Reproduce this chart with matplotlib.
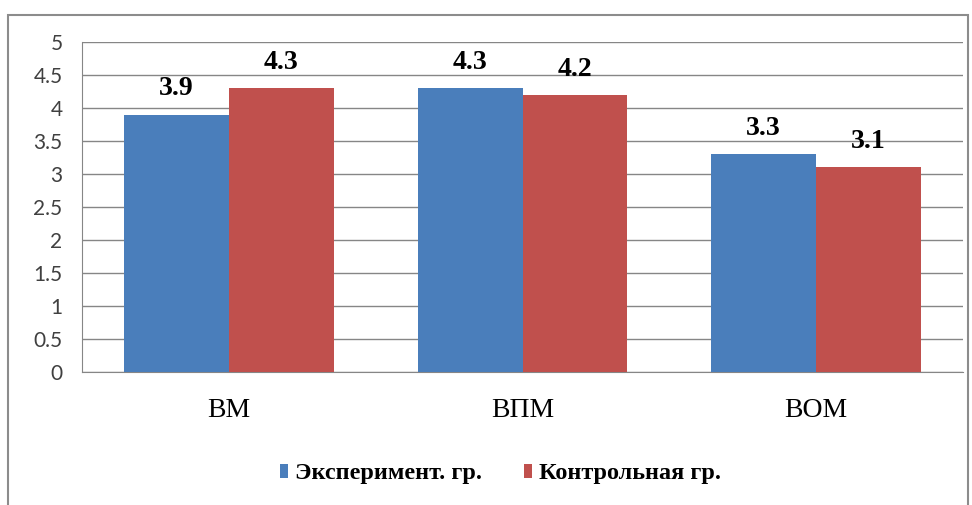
import matplotlib
matplotlib.use("Agg")
import matplotlib.pyplot as plt
from matplotlib.patches import Rectangle
import numpy as np

categories = ["ВМ", "ВПМ", "ВОМ"]
exp_values = [3.9, 4.3, 3.3]
ctrl_values = [4.3, 4.2, 3.1]
series_names = ["Эксперимент. гр.", "Контрольная гр."]
yticks = [0, 0.5, 1, 1.5, 2, 2.5, 3, 3.5, 4, 4.5, 5]
ytick_labels = ["0", "0.5", "1", "1.5", "2", "2.5", "3", "3.5", "4", "4.5", "5"]

blue = "#4A7EBB"
red = "#C0504D"

fig = plt.figure(figsize=(9.72, 5.05), dpi=100)
fig.patch.set_facecolor("white")

# outer frame
fig.patches.append(Rectangle((8 / 972, -0.05), (968 - 8) / 972, (505 - 15) / 505 + 0.05,
                             transform=fig.transFigure, fill=False,
                             edgecolor="#8c8c8c", linewidth=1.5))

ax = fig.add_axes([82 / 972, (505 - 372) / 505, (963 - 82) / 972, (372 - 42) / 505])
x = np.arange(len(categories))
w = 0.357
b1 = ax.bar(x - w / 2, exp_values, w, color=blue, label=series_names[0], zorder=3)
b2 = ax.bar(x + w / 2, ctrl_values, w, color=red, label=series_names[1], zorder=3)

for bars, vals in ((b1, exp_values), (b2, ctrl_values)):
    for bar, v in zip(bars, vals):
        ax.annotate(f"{v:.1f}", (bar.get_x() + bar.get_width() / 2, v),
                    xytext=(0, 9.5), textcoords="offset points",
                    ha="center", va="bottom", fontsize=20, fontweight="bold",
                    family="Liberation Serif", color="black")

ax.set_xlim(-0.5, 2.5)
ax.set_ylim(0, 5)
ax.set_yticks(yticks)
ax.set_yticklabels(ytick_labels, family="Lato", fontsize=15, color="#404040")
ax.set_xticks(x)
ax.set_xticklabels(categories, family="Liberation Serif", fontsize=20)
ax.tick_params(axis="y", length=0, pad=14)
ax.tick_params(axis="x", length=0, pad=19)
ax.yaxis.grid(True, color="#868686", linewidth=1.0, zorder=0)
ax.set_axisbelow(True)
for s in ("top", "right"):
    ax.spines[s].set_visible(False)
ax.spines["left"].set_color("#868686")
ax.spines["bottom"].set_color("#868686")

leg = fig.legend(handles=[b1, b2], labels=series_names, loc="center",
                 bbox_to_anchor=(500.5 / 972, (505 - 474) / 505), ncol=2,
                 frameon=False, prop={"family": "Liberation Serif", "size": 17.5, "weight": "bold"},
                 handlelength=0.35, handleheight=0.55, handletextpad=0.3, columnspacing=1.7)

fig.savefig("out.png", dpi=100, facecolor="white")
